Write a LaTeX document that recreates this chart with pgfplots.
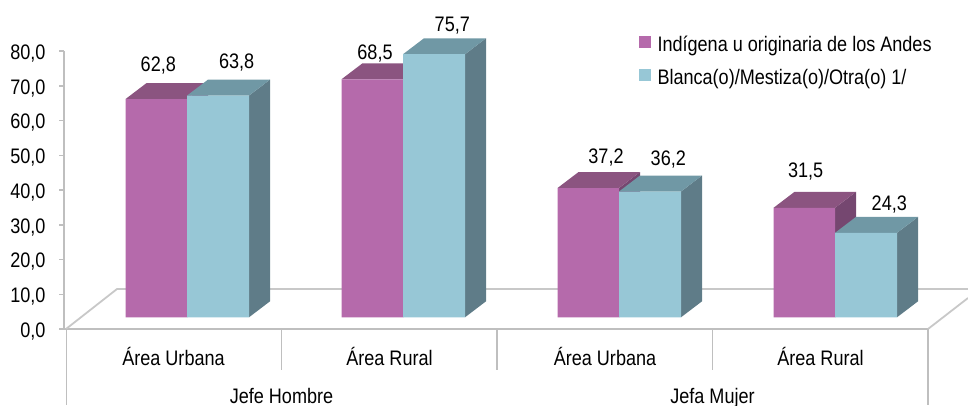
\documentclass[border=0pt]{standalone}
\usepackage{pgfplots}
\pgfplotsset{compat=1.18}
\usepackage{fontspec}
\setmainfont[FakeStretch=0.86]{Liberation Sans}
\definecolor{pfront}{HTML}{B56AAB}
\definecolor{ptop}{HTML}{8B5480}
\definecolor{pside}{HTML}{754770}
\definecolor{bfront}{HTML}{97C7D6}
\definecolor{btop}{HTML}{7098A5}
\definecolor{bside}{HTML}{5F7C88}
\definecolor{axgray}{HTML}{BFBFBF}
\definecolor{flgray}{HTML}{C8C8C8}
\newcommand{\lab}{\fontsize{21}{25}\selectfont}
\tikzset{vlab/.style={font=\lab,anchor=base,inner sep=0pt,text=black}}
\begin{document}
\begin{tikzpicture}[x=1pt,y=1pt]
\useasboundingbox (0,0) rectangle (968pt,405pt);
\begin{axis}[
  at={(64pt,76pt)},anchor=south west,
  scale only axis,width=864pt,height=278pt,
  xmin=64,xmax=928,ymin=0,ymax=80,
  clip=false,
  axis x line*=bottom,axis y line*=left,
  axis line style={-,draw=axgray,line width=1.5pt},
  ytick={0,10,...,80},
  xtick={173.5,389.5,605,820.5},
  xticklabels={Área Urbana,Área Rural,Área Urbana,Área Rural},
  tick align=outside,
  major tick length=5pt,
  xtick style={draw=none},
  ytick style={draw=axgray,line width=1.5pt},
  tick label style={font=\lab,text=black},
  xticklabel style={anchor=base,yshift=-31pt},
  yticklabel style={anchor=east,xshift=-10pt,yshift=-2.5pt},
  /pgf/number format/.cd,fixed,fixed zerofill,precision=1,use comma,assume math mode=true,
  /pgfplots/.cd,
  legend style={at={(axis cs:639,84.9)},anchor=north west,draw=none,fill=none,font=\lab,
    inner sep=0pt,outer sep=0pt,
    row sep=12pt,cells={anchor=west}},
  legend cell align=left,
]
% floor and category dividers
\addplot[forget plot,flgray,line width=1.8pt] coordinates {(66,0) (117,11.51) (968,11.51)};
\addplot[forget plot,flgray,line width=1.8pt] coordinates {(928,0) (968,8.92)};
\addplot[forget plot,axgray,line width=1.5pt] coordinates {(66.5,0) (66.5,-22)};
\addplot[forget plot,axgray,line width=1.5pt] coordinates {(281.5,0) (281.5,-11.8)};
\addplot[forget plot,axgray,line width=1.5pt] coordinates {(497,0) (497,-11.8)};
\addplot[forget plot,axgray,line width=1.5pt] coordinates {(712.5,0) (712.5,-11.8)};
\addplot[forget plot,axgray,line width=1.5pt] coordinates {(928,0) (928,-22)};
% purple: sides, tops
\addplot[forget plot,fill=pside,draw=none,yshift=11.7pt] coordinates {(187,0) (187,62.8) (208,67.4) (208,4.6)};
\addplot[forget plot,fill=ptop,draw=none,yshift=11.7pt] coordinates {(125.5,62.8) (187,62.8) (208,67.4) (146.5,67.4)};
\addplot[forget plot,fill=pside,draw=none,yshift=11.7pt] coordinates {(403,0) (403,68.5) (424,73.1) (424,4.6)};
\addplot[forget plot,fill=ptop,draw=none,yshift=11.7pt] coordinates {(341.5,68.5) (403,68.5) (424,73.1) (362.5,73.1)};
\addplot[forget plot,fill=pside,draw=none,yshift=11.7pt] coordinates {(619,0) (619,37.2) (640,41.8) (640,4.6)};
\addplot[forget plot,fill=ptop,draw=none,yshift=11.7pt] coordinates {(557.5,37.2) (619,37.2) (640,41.8) (578.5,41.8)};
\addplot[forget plot,fill=pside,draw=none,yshift=11.7pt] coordinates {(835,0) (835,31.5) (856,36.1) (856,4.6)};
\addplot[forget plot,fill=ptop,draw=none,yshift=11.7pt] coordinates {(773.5,31.5) (835,31.5) (856,36.1) (794.5,36.1)};
% purple fronts
\addplot[ybar,bar width=61.5pt,bar shift=0pt,fill=pfront,draw=none,yshift=11.7pt,
  legend image code/.code={\fill[pfront] (0pt,-15.3pt) rectangle (12pt,-3.3pt);}]
  coordinates {(156.25,62.8) (372.25,68.5) (588.25,37.2) (804.25,31.5)};
\addlegendentry{\hspace{4.5pt}Indígena u originaria de los Andes}
% blue: sides, tops
\addplot[forget plot,fill=bside,draw=none,yshift=11.7pt] coordinates {(249,0) (249,63.8) (270,68.4) (270,4.6)};
\addplot[forget plot,fill=btop,draw=none,yshift=11.7pt] coordinates {(187,63.8) (249,63.8) (270,68.4) (208,68.4)};
\addplot[forget plot,fill=bside,draw=none,yshift=11.7pt] coordinates {(465,0) (465,75.7) (486,80.3) (486,4.6)};
\addplot[forget plot,fill=btop,draw=none,yshift=11.7pt] coordinates {(403,75.7) (465,75.7) (486,80.3) (424,80.3)};
\addplot[forget plot,fill=bside,draw=none,yshift=11.7pt] coordinates {(681,0) (681,36.2) (702,40.8) (702,4.6)};
\addplot[forget plot,fill=btop,draw=none,yshift=11.7pt] coordinates {(619,36.2) (681,36.2) (702,40.8) (640,40.8)};
\addplot[forget plot,fill=bside,draw=none,yshift=11.7pt] coordinates {(897,0) (897,24.3) (918,28.9) (918,4.6)};
\addplot[forget plot,fill=btop,draw=none,yshift=11.7pt] coordinates {(835,24.3) (897,24.3) (918,28.9) (856,28.9)};
% blue fronts
\addplot[ybar,bar width=62pt,bar shift=0pt,fill=bfront,draw=none,yshift=11.7pt,
  legend image code/.code={\fill[bfront] (0pt,-15.3pt) rectangle (12pt,-3.3pt);}]
  coordinates {(218,63.8) (434,75.7) (650,36.2) (866,24.3)};
\addlegendentry{\hspace{4.5pt}Blanca(o)/Mestiza(o)/Otra(o) 1/}
% value labels
\node[vlab] at (axis cs:158.3,73.96) {62,8};
\node[vlab] at (axis cs:236.7,75.02) {63,8};
\node[vlab] at (axis cs:375,77.61) {68,5};
\node[vlab] at (axis cs:452.3,85.75) {75,7};
\node[vlab] at (axis cs:606,47.77) {37,2};
\node[vlab] at (axis cs:668.3,47.0) {36,2};
\node[vlab] at (axis cs:805.7,43.54) {31,5};
\node[vlab] at (axis cs:889.3,34.24) {24,3};
% group labels
\node[vlab] at (axis cs:281.5,-21.5) {Jefe Hombre};
\node[vlab] at (axis cs:712.5,-21.5) {Jefa Mujer};
\end{axis}
\end{tikzpicture}
\end{document}
